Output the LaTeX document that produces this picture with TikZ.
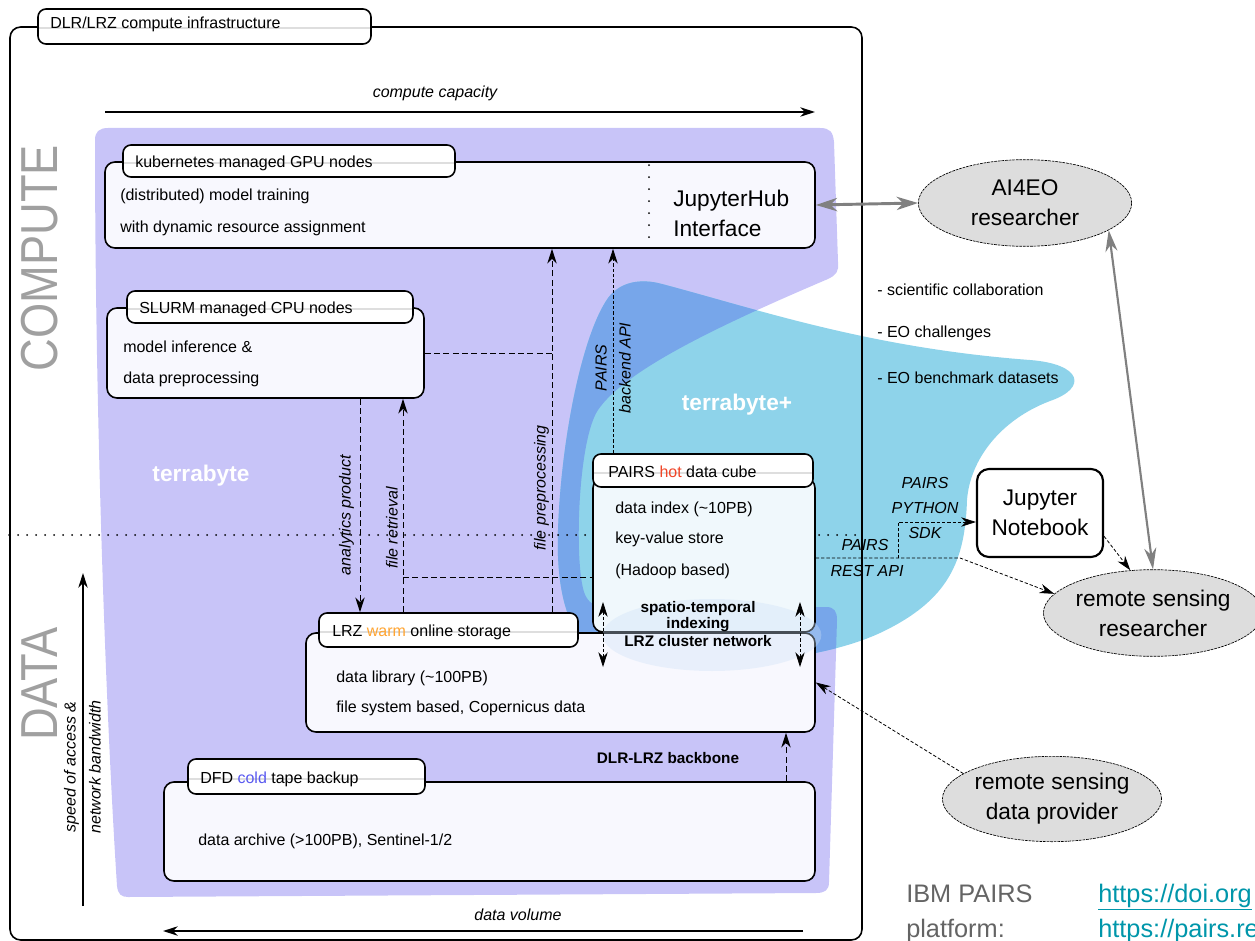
\documentclass[tikz,border=0pt]{standalone}
\usepackage{fontspec}
\setmainfont{Liberation Sans}
\usetikzlibrary{arrows.meta,shapes.geometric,fit}
\definecolor{lav}{RGB}{200,196,248}
\definecolor{cyanb}{RGB}{142,211,234}
\definecolor{ovl}{RGB}{119,166,234}
\definecolor{boxfill}{RGB}{248,248,254}
\definecolor{pairsfill}{RGB}{240,248,252}
\definecolor{ellfill}{RGB}{221,221,221}
\definecolor{arrgray}{RGB}{128,128,128}
\definecolor{warmc}{RGB}{255,165,50}
\definecolor{hotc}{RGB}{240,70,40}
\definecolor{coldc}{RGB}{90,90,240}
\definecolor{linkc}{RGB}{0,150,170}
\definecolor{biggray}{RGB}{160,160,160}
\definecolor{ibmgray}{RGB}{100,100,100}
\definecolor{glosscol}{RGB}{222,222,222}
\definecolor{glowc}{RGB}{205,225,248}
\newcommand\lavpath{(95,140) .. controls (95,132) and (99,128) .. (108,128) -- (820,128) .. controls (830,128) and (833,132) .. (834,142) -- (838,262) .. controls (839,272) and (836,275) .. (828,279) .. controls (720,325) and (625,370) .. (598,410) .. controls (578,440) and (574,560) .. (584,592) .. controls (588,604) and (596,607) .. (608,607) -- (826,607) .. controls (834,607) and (837,611) .. (837,620) -- (829,882) .. controls (829,890) and (825,893) .. (816,893) -- (128,897) .. controls (121,897) and (118,894) .. (117,886) .. controls (105,700) and (95,400) .. (95,140) -- cycle}
\newcommand\cyanpath{(558,530) .. controls (561,440) and (582,335) .. (608,298) .. controls (620,282) and (640,278) .. (662,284) .. controls (760,310) and (870,348) .. (1030,360) .. controls (1082,364) and (1088,388) .. (1050,401) .. controls (1000,420) and (970,460) .. (967,500) .. controls (965,560) and (950,600) .. (880,633) .. controls (800,670) and (645,672) .. (592,646) .. controls (566,632) and (556,585) .. (558,530) -- cycle}
\begin{document}
\begin{tikzpicture}[x=0.75pt,y=-0.75pt,
  >={Stealth[length=11pt,width=7pt,inset=3.5pt]},
  mainbox/.style={draw=black, line width=1.2pt, fill=boxfill, rounded corners=7.5pt, inner sep=0pt},
  tabbox/.style={draw=black, line width=1.2pt, fill=white, rounded corners=6pt, inner sep=0pt,
    path picture={\draw[glosscol, line width=1.5pt] ([yshift=-1.5pt]path picture bounding box.west) -- ([yshift=-1.5pt]path picture bounding box.east);}},
  lab/.style={inner sep=0pt, text depth=0pt, text height=8.6pt, font=\fontsize{12}{14}\selectfont},
  ilab/.style={lab, font=\fontsize{12}{14}\selectfont\itshape},
  blab/.style={inner sep=0pt, text depth=0pt, text height=8.2pt, font=\fontsize{11.5}{13}\selectfont\bfseries},
  biglab/.style={inner sep=0pt, text depth=0pt, text height=12.2pt, font=\fontsize{17}{22.5}\selectfont},
  whitelab/.style={inner sep=0pt, text=white, font=\fontsize{17}{20}\selectfont\bfseries},
  dashln/.style={line width=0.75pt, dash pattern=on 4.5pt off 2.5pt},
  fdash/.style={line width=0.6pt, dash pattern=on 2.5pt off 1.5pt},
  dotln/.style={line width=1.5pt, line cap=round, dash pattern=on 0pt off 6.75pt},
  actor/.style={ellipse, draw=black, line width=0.5pt, dash pattern=on 2pt off 0.7pt, fill=ellfill,
    minimum width=160pt, minimum height=65pt, inner sep=0pt, align=center, font=\fontsize{17}{22.5}\selectfont},
  grayarr/.style={draw=arrgray, line width=2.2pt, {Stealth[length=16pt,width=10pt,inset=5pt]}-{Stealth[length=16pt,width=10pt,inset=5pt]}},
  grayarrb/.style={draw=arrgray, line width=1.6pt, {Stealth[length=16pt,width=9pt,inset=5pt]}-{Stealth[length=16pt,width=9pt,inset=5pt]}}
]
\useasboundingbox (0,0) rectangle (1255,941);
% background regions
\fill[lav] \lavpath;
\fill[cyanb] \cyanpath;
\begin{scope}
  \clip \lavpath;
  \fill[ovl] \cyanpath;
\end{scope}

% outer frame
\node[draw=black, line width=1.2pt, rounded corners=8pt, inner sep=0pt, fit={(10,27) (862,940)}] (infra) {};
\node[tabbox, fit={(38,9) (371,44)}] (infratab) {};
\node[lab, anchor=west] (infratitle) at (50,23) {DLR/LRZ compute infrastructure};

% dotted separation
\coordinate (doty) at (0,535);
\draw[dotln] (infra.west |- doty) -- (infra.east |- doty);

% boxes
\node[mainbox, fit={(105,162) (815,248)}] (gpu) {};
\node[tabbox, fit={(123,145) (455,177)}] (gputab) {};
\node[mainbox, fit={(107,308) (424,398)}] (slurm) {};
\node[tabbox, fit={(127,291) (413,323)}] (slurmtab) {};
\node[mainbox, fill=pairsfill, fit={(593,478) (815,632)}] (pairs) {};
\node[tabbox, fit={(593,454) (813,487)}] (pairstab) {};
\node[mainbox, fit={(306,633) (815,732)}] (lrz) {};
\node[tabbox, fit={(319,613) (578,647)}] (lrztab) {};
\node[mainbox, fit={(164,782) (815,881)}] (dfd) {};
\node[tabbox, fit={(188,759) (425,794)}] (dfdtab) {};

% glow around the cluster network label
\fill[glowc, opacity=0.35] (712,635) ellipse [x radius=82pt, y radius=27pt];

% dotted divider inside the GPU box
\coordinate (xj) at (649,0);
\draw[line width=1.5pt, line cap=round, dash pattern=on 0pt off 9pt] ([yshift=-3pt]gpu.north -| xj) -- (gpu.south -| xj);

% right-hand actors
\node[actor] (ai4eo) at (1025,203) {AI4EO\\researcher};
\node[actor] (rsr) at (1153,613) {remote sensing\\researcher};
\node[actor, minimum width=159pt, minimum height=64pt] (rsdp) at (1052,799) {remote sensing\\data provider};
\node[draw=black, line width=1.6pt, fill=white, rounded corners=9pt, minimum width=94.5pt, minimum height=66pt,
  inner sep=0pt, align=center, font=\fontsize{17}{22.5}\selectfont] (nb) at (1040,513) {Jupyter\\Notebook};

% axes
\coordinate (cc1) at (105,112);
\coordinate (cc2) at (815,112);
\draw[line width=1.2pt, ->] (cc1) -- (cc2);
\coordinate (dv1) at (803,931);
\coordinate (dv2) at (163,931);
\draw[line width=1.2pt, ->] (dv1) -- (dv2);
\coordinate (sp1) at (83,906);
\coordinate (sp2) at (83,573);
\draw[line width=1.2pt, ->] (sp1) -- (sp2);

% internal connectors
\coordinate (xa) at (360,0);
\coordinate (xb) at (403,0);
\coordinate (xc) at (552,0);
\coordinate (xd) at (613,0);
\coordinate (xe) at (786,0);
\coordinate (fr) at (403,577);
\draw[dashln, ->] (slurm.south -| xa) -- (lrztab.north -| xa);
\draw[dashln, ->] (lrztab.north -| xb) -- (slurm.south -| xb);
\draw[dashln] (fr) -- (pairs.west |- fr);
\draw[dashln, ->] (lrztab.north -| xc) -- (gpu.south -| xc);
\draw[dashln] (slurm.east) -- (slurm.east -| xc);
\draw[fdash, ->] (pairstab.north -| xd) -- (gpu.south -| xd);
\draw[dashln, ->] (dfd.north -| xe) -- (lrz.south -| xe);
\coordinate (cnA1) at (603,602);
\coordinate (cnA2) at (603,667);
\coordinate (cnB1) at (800,602);
\coordinate (cnB2) at (800,667);
\draw[fdash, <->] (cnA1) -- (cnA2);
\draw[fdash, <->] (cnB1) -- (cnB2);

% external connectors
\draw[grayarr] (gpu.east) -- (ai4eo.west);
\draw[grayarrb] (ai4eo.-18) -- (rsr.north);
\coordinate (restbend) at (960,558);
\coordinate (sdkfoot) at (898,558);
\coordinate (sdkturn) at (898,522);
\draw[fdash, ->] (pairs.east |- restbend) -- (restbend) -- (rsr.169);
\draw[fdash, ->] (sdkfoot) -- (sdkturn) -- (nb.west |- sdkturn);
\draw[fdash, ->] (nb.-20) -- (rsr.118);
\draw[fdash, ->] (rsdp.164) -- (lrz.east);

% box texts
\node[lab, anchor=west] (tgpu) at (135,162) {kubernetes managed GPU nodes};
\node[lab, anchor=west] (tgpu1) at (120,195) {(distributed) model training};
\node[lab, anchor=west] (tgpu2) at (120,227) {with dynamic resource assignment};
\node[biglab, anchor=west] (tjh1) at (673,198) {JupyterHub};
\node[biglab, anchor=west] (tjh2) at (673,228) {Interface};
\node[lab, anchor=west] (tslurm) at (139,308) {SLURM managed CPU nodes};
\node[lab, anchor=west] (tslurm1) at (123,347) {model inference \&};
\node[lab, anchor=west] (tslurm2) at (123,378) {data preprocessing};
\node[lab, anchor=west] (tpairs) at (608,472) {PAIRS \textcolor{hotc}{hot} data cube};
\node[lab, anchor=west] (tpairs1) at (615,508) {data index (\textasciitilde 10PB)};
\node[lab, anchor=west] (tpairs2) at (615,538) {key-value store};
\node[lab, anchor=west] (tpairs3) at (615,570) {(Hadoop based)};
\node[blab] (tspatio) at (698,607) {spatio-temporal};
\node[blab] (tindex) at (698,623) {indexing};
\node[blab] (tcluster) at (698,641) {LRZ cluster network};
\node[lab, anchor=west] (tlrz) at (332,631) {LRZ \textcolor{warmc}{warm} online storage};
\node[lab, anchor=west] (tlrz1) at (336,677) {data library (\textasciitilde 100PB)};
\node[lab, anchor=west] (tlrz2) at (336,707) {file system based, Copernicus data};
\node[lab, anchor=west] (tdfd) at (200,778) {DFD \textcolor{coldc}{cold} tape backup};
\node[lab, anchor=west] (tdfd1) at (198,840) {data archive (>100PB), Sentinel-1/2};
\node[blab] (tbackbone) at (668,758) {DLR-LRZ backbone};
\node[whitelab] (tterra) at (201,476) {terrabyte};
\node[whitelab] (tterrap) at (737,405) {terrabyte+};

% connector labels
\node[ilab, rotate=90] (lap) at (345,515) {analytics product};
\node[ilab, rotate=90] (lfr) at (392,528) {file retrieval};
\node[ilab, rotate=90] (lfp) at (540,488) {file preprocessing};
\node[ilab, rotate=90] (lpairs) at (601,368) {PAIRS};
\node[ilab, rotate=90] (lbapi) at (625,368) {backend API};
\node[ilab] (lsdk1) at (925,483) {PAIRS};
\node[ilab] (lsdk2) at (925,508) {PYTHON};
\node[ilab] (lsdk3) at (925,533) {SDK};
\node[ilab] (lrest1) at (865,545) {PAIRS};
\node[ilab] (lrest2) at (867,571) {REST API};

% axis labels
\node[ilab] (lcc) at (435,92) {compute capacity};
\node[ilab] (ldv) at (518,915) {data volume};
\node[ilab, rotate=90] (lsp1) at (70,767) {speed of access \&};
\node[ilab, rotate=90] (lsp2) at (95,767) {network bandwidth};
\node[rotate=90, inner sep=0pt, text=biggray, font=\fontsize{39}{40}\selectfont] (lcompute) at (40,258) {\scalebox{0.87}[1]{COMPUTE}};
\node[rotate=90, inner sep=0pt, text=biggray, font=\fontsize{39}{40}\selectfont] (ldata) at (40,684) {\scalebox{0.87}[1]{DATA}};

% bullet list
\node[lab, anchor=west] (b1) at (877,290) {- scientific collaboration};
\node[lab, anchor=west] (b2) at (877,332) {- EO challenges};
\node[lab, anchor=west] (b3) at (877,378) {- EO benchmark datasets};

% references
\node[inner sep=0pt, anchor=west, text depth=0pt, text height=13.6pt, text=ibmgray, font=\fontsize{19}{22}\selectfont] (ibm1) at (906,893) {IBM PAIRS};
\node[inner sep=0pt, anchor=west, text depth=0pt, text height=13.6pt, text=ibmgray, font=\fontsize{19}{22}\selectfont] (ibm2) at (906,928) {platform:};
\node[inner sep=0pt, anchor=west, text depth=0pt, text height=13.6pt, text=linkc, font=\fontsize{19}{22}\selectfont] (link1) at (1098,893) {\underline{https://doi.org}};
\node[inner sep=0pt, anchor=west, text depth=0pt, text height=13.6pt, text=linkc, font=\fontsize{19}{22}\selectfont] (link2) at (1098,928) {https://pairs.re};
\end{tikzpicture}
\end{document}
